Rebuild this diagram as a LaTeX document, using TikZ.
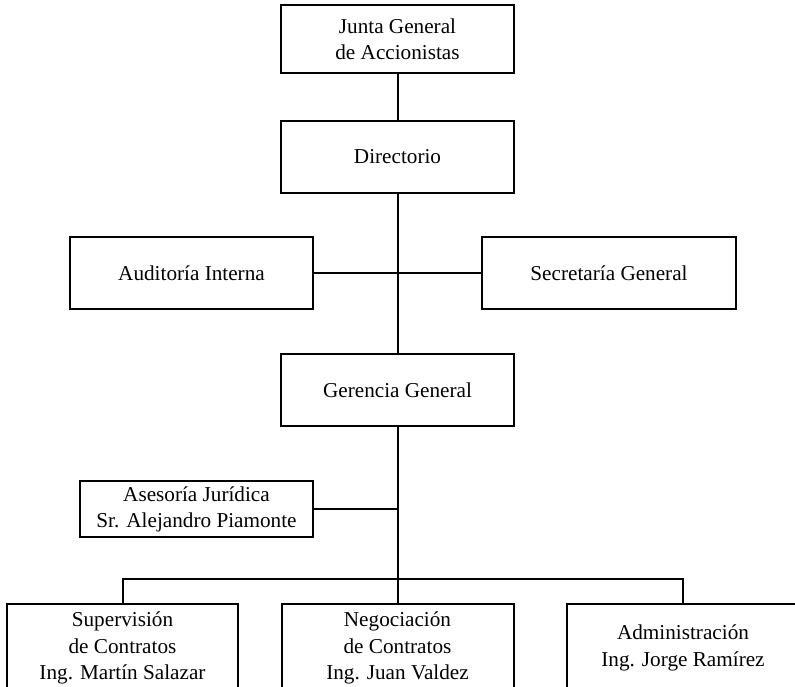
\documentclass[tikz,border=0pt]{standalone}
\usepackage{fontspec}
\setmainfont{Liberation Serif}
\begin{document}
\begin{tikzpicture}[x=1pt,y=-1pt,
  unit/.style={draw=black, line width=2pt, rectangle, align=center, inner sep=0pt,
    font=\fontsize{21.2}{26.2}\selectfont},
  link/.style={draw=black, line width=2pt}]
  \clip (0,0) rectangle (795,686);
  \useasboundingbox (0,0) rectangle (795,686);

  % upper chain
  \node[unit, minimum width=233pt, minimum height=68pt] (junta) at (397.5,39) {Junta General\\de Accionistas};
  \node[unit, minimum width=233pt, minimum height=72pt] (dir) at (397.5,157) {Directorio};
  \node[unit, minimum width=243pt, minimum height=72pt] (aud) at (191.5,273) {Auditoría Interna};
  \node[unit, minimum width=254pt, minimum height=72pt] (sec) at (609,273) {Secretaría General};
  \node[unit, minimum width=233pt, minimum height=72pt] (ger) at (397.5,390) {Gerencia General};
  \node[unit, minimum width=233pt, minimum height=56pt] (ase) at (196.5,509) {Asesoría Jurídica\\Sr. Alejandro Piamonte};

  % operating units
  \node[unit, minimum width=231pt, minimum height=88pt] (sup) at (122.5,648) {Supervisión\\de Contratos\\Ing. Martín Salazar};
  \node[unit, minimum width=232pt, minimum height=88pt] (neg) at (397.5,648) {Negociación\\de Contratos\\Ing. Juan Valdez};
  \node[unit, minimum width=232pt, minimum height=88pt] (adm) at (683,648) {Administración\\Ing. Jorge Ramírez};

  \coordinate (bus) at (397.5,579);

  % connectors
  \draw[link] (junta.south) -- (dir.north);
  \draw[link] (dir.south) -- (ger.north);
  \draw[link] (aud.east) -- (sec.west);
  \draw[link] (ger.south) -- (neg.north);
  \draw[link] (ase.east) -- (ase.east -| ger.south);
  \draw[link] (sup.north) |- (bus) -| (adm.north);
\end{tikzpicture}
\end{document}
